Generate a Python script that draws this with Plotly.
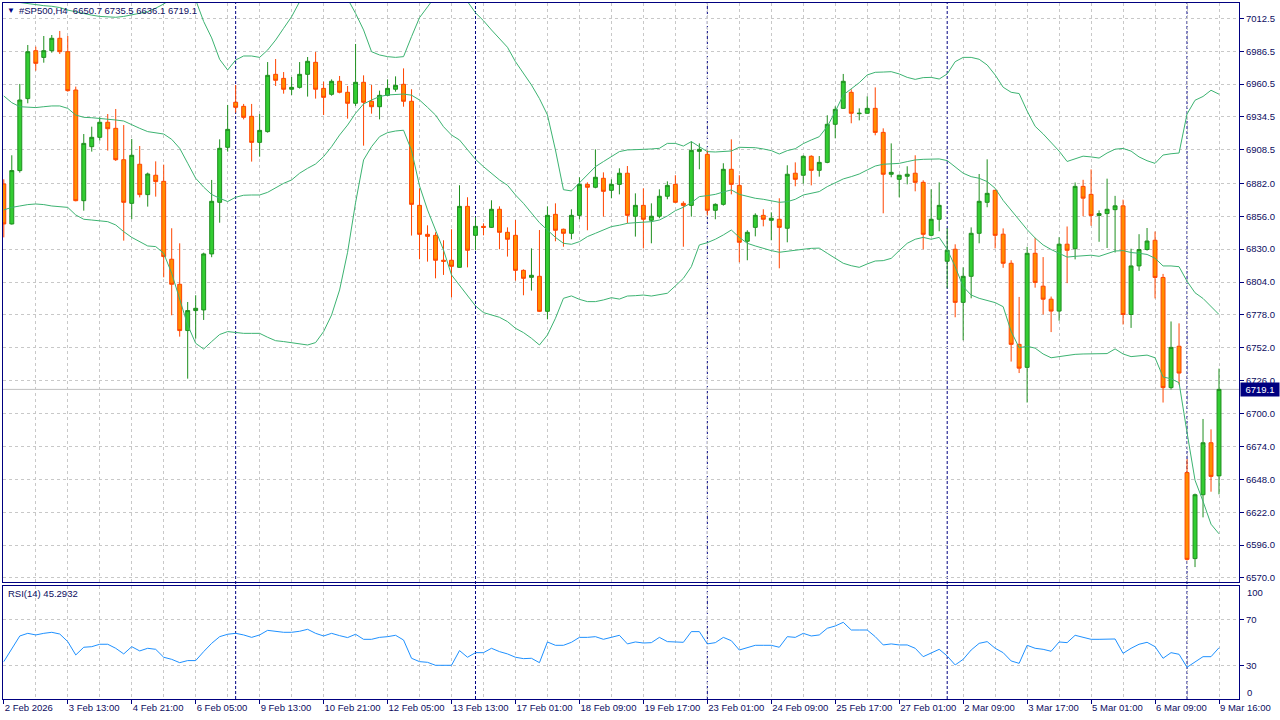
import plotly.graph_objects as go

symbol = "#SP500,H4"

open_ = [6881.5, 6849.9, 6892.1, 6949.0, 6986.9, 6981.6, 6986.9, 6996.7, 6986.1, 6955.8,
         6868.3, 6911.0, 6918.4, 6930.3, 6925.5, 6900.7, 6866.2, 6897.1, 6873.1, 6888.4,
         6883.6, 6822.0, 6802.2, 6765.6, 6781.4, 6781.9, 6826.2, 6867.0, 6910.5, 6946.1,
         6942.9, 6935.0, 6914.4, 6922.9, 6968.2, 6965.0, 6956.4, 6957.9, 6968.2, 6977.7,
         6957.1, 6952.4, 6962.7, 6954.0, 6945.3, 6961.9, 6946.9, 6942.6, 6951.6, 6956.4,
         6960.3, 6946.9, 6864.6, 6841.7, 6840.9, 6821.2, 6821.2, 6815.6, 6863.8, 6840.9,
         6848.0, 6847.2, 6861.5, 6843.3, 6840.9, 6813.2, 6807.7, 6808.5, 6780.8, 6857.5,
         6845.7, 6842.5, 6856.7, 6881.2, 6878.9, 6886.0, 6876.5, 6881.2, 6890.0, 6856.0,
         6864.6, 6852.8, 6856.0, 6871.8, 6881.2, 6866.2, 6864.6, 6907.3, 6904.9, 6860.7,
         6865.4, 6893.1, 6880.4, 6836.2, 6847.2, 6856.7, 6852.8, 6853.6, 6846.5, 6890.0,
         6888.4, 6903.4, 6892.3, 6898.6, 6928.7, 6941.3, 6954.0, 6937.1, 6937.4, 6941.3,
         6922.3, 6889.2, 6885.2, 6887.6, 6890.0, 6882.8, 6840.9, 6853.6, 6820.4, 6829.9,
         6787.9, 6808.5, 6842.5, 6867.0, 6876.5, 6841.8, 6818.8, 6754.7, 6736.5, 6826.7,
         6800.7, 6790.4, 6781.0, 6833.9, 6830.3, 6879.6, 6873.3, 6856.6, 6858.1, 6861.2,
         6864.2, 6778.3, 6816.7, 6829.7, 6837.0, 6807.6, 6720.5, 6753.2, 6653.3, 6585.3,
         6635.8, 6676.9, 6650.7]
high = [6885.2, 6904.2, 6960.6, 6991.4, 6990.1, 6998.5, 6999.3, 7002.5, 6998.5, 6958.5,
        6921.0, 6926.8, 6934.2, 6936.8, 6940.8, 6928.1, 6917.1, 6911.5, 6890.5, 6899.4,
        6896.8, 6846.5, 6834.6, 6788.2, 6793.5, 6827.2, 6884.7, 6916.8, 6944.0, 6959.8,
        6944.8, 6944.8, 6936.8, 6977.9, 6980.3, 6970.0, 6966.1, 6977.9, 6981.9, 6985.9,
        6962.4, 6964.2, 6966.9, 6959.0, 6992.2, 6967.4, 6959.8, 6955.3, 6964.2, 6966.6,
        6972.9, 6956.4, 6878.1, 6848.8, 6843.3, 6837.0, 6845.7, 6880.5, 6871.0, 6855.2,
        6850.4, 6868.6, 6863.8, 6847.2, 6853.0, 6814.0, 6830.6, 6845.1, 6863.8, 6866.2,
        6846.2, 6861.5, 6886.8, 6882.8, 6908.9, 6890.7, 6885.2, 6893.9, 6895.7, 6874.1,
        6878.1, 6866.2, 6877.3, 6883.6, 6888.4, 6867.8, 6915.2, 6913.6, 6908.1, 6866.2,
        6897.9, 6916.8, 6888.4, 6844.9, 6858.3, 6861.5, 6859.1, 6870.2, 6896.3, 6898.6,
        6904.2, 6904.2, 6903.6, 6935.8, 6942.9, 6968.5, 6956.4, 6941.3, 6950.8, 6957.9,
        6925.5, 6913.6, 6888.9, 6895.5, 6904.2, 6884.4, 6877.3, 6882.8, 6846.5, 6833.8,
        6815.6, 6847.2, 6889.4, 6901.0, 6876.8, 6846.4, 6821.2, 6792.2, 6831.8, 6838.8,
        6823.7, 6792.5, 6839.4, 6847.9, 6882.7, 6884.8, 6893.0, 6860.6, 6885.7, 6872.1,
        6869.1, 6830.3, 6841.8, 6846.7, 6843.9, 6810.4, 6772.8, 6771.3, 6663.9, 6636.7,
        6695.7, 6687.5, 6735.5]
low = [6839.3, 6849.4, 6890.5, 6945.3, 6971.1, 6977.4, 6985.3, 6984.3, 6954.5, 6867.8,
       6860.4, 6907.1, 6915.8, 6907.9, 6899.7, 6836.7, 6853.8, 6870.9, 6863.6, 6871.5,
       6807.7, 6777.7, 6760.8, 6727.6, 6759.2, 6774.0, 6823.6, 6850.9, 6907.1, 6937.9,
       6932.6, 6899.2, 6903.1, 6922.1, 6959.0, 6952.9, 6951.9, 6956.9, 6950.6, 6949.0,
       6936.0, 6951.3, 6953.2, 6933.2, 6943.2, 6911.8, 6937.1, 6932.6, 6950.8, 6954.5,
       6942.6, 6840.7, 6822.0, 6820.1, 6806.9, 6809.6, 6791.9, 6815.4, 6815.6, 6829.1,
       6840.9, 6846.7, 6829.9, 6824.1, 6805.1, 6793.5, 6797.2, 6780.3, 6774.5, 6836.2,
       6831.9, 6837.8, 6853.6, 6844.9, 6878.1, 6855.7, 6870.2, 6873.3, 6850.4, 6839.9,
       6830.6, 6834.6, 6854.4, 6869.4, 6866.7, 6831.9, 6855.7, 6893.1, 6856.7, 6853.6,
       6864.4, 6873.3, 6819.6, 6821.2, 6840.1, 6848.0, 6837.0, 6814.8, 6835.4, 6879.7,
       6881.8, 6880.4, 6887.3, 6897.9, 6917.6, 6941.1, 6929.5, 6931.8, 6937.1, 6920.0,
       6858.3, 6886.8, 6871.0, 6881.2, 6875.7, 6829.9, 6840.1, 6844.1, 6799.0, 6776.1,
       6757.9, 6791.1, 6834.6, 6863.1, 6830.6, 6815.2, 6741.1, 6732.0, 6708.7, 6799.5,
       6778.3, 6764.4, 6773.4, 6803.1, 6821.9, 6856.0, 6848.5, 6835.8, 6830.9, 6827.3,
       6770.4, 6767.7, 6812.8, 6828.8, 6791.0, 6708.7, 6719.0, 6722.9, 6583.8, 6578.6,
       6617.9, 6638.2, 6636.1]
close = [6849.9, 6892.1, 6947.9, 6986.1, 6976.9, 6986.9, 6996.7, 6986.1, 6955.3, 6868.3,
         6913.6, 6918.4, 6930.3, 6925.2, 6900.7, 6867.0, 6904.2, 6873.1, 6889.4, 6883.4,
         6824.1, 6802.2, 6765.6, 6781.4, 6783.2, 6826.2, 6867.8, 6909.7, 6924.7, 6942.1,
         6934.2, 6914.4, 6923.9, 6967.4, 6963.5, 6956.4, 6957.9, 6968.2, 6978.5, 6956.4,
         6950.0, 6962.7, 6954.0, 6945.3, 6961.9, 6946.1, 6942.6, 6951.6, 6957.1, 6959.5,
         6946.9, 6865.4, 6841.7, 6840.1, 6821.2, 6820.4, 6816.4, 6863.8, 6829.1, 6848.0,
         6847.2, 6861.5, 6843.3, 6837.8, 6813.2, 6806.9, 6809.3, 6780.8, 6856.7, 6844.9,
         6842.5, 6856.7, 6881.2, 6878.9, 6886.8, 6875.7, 6881.2, 6890.0, 6856.7, 6864.6,
         6853.6, 6856.0, 6871.8, 6880.4, 6867.0, 6864.6, 6908.1, 6908.9, 6860.7, 6865.4,
         6893.1, 6881.2, 6835.4, 6843.3, 6856.7, 6853.6, 6854.4, 6847.2, 6889.2, 6885.2,
         6903.4, 6892.3, 6898.6, 6928.7, 6940.5, 6962.7, 6937.4, 6937.4, 6941.3, 6922.3,
         6889.2, 6890.7, 6888.4, 6889.2, 6882.8, 6841.7, 6853.6, 6864.6, 6829.1, 6787.9,
         6808.5, 6842.5, 6867.8, 6874.1, 6840.9, 6818.8, 6754.7, 6735.9, 6826.7, 6803.7,
         6790.4, 6781.0, 6833.9, 6829.1, 6879.6, 6870.3, 6856.6, 6858.1, 6861.5, 6864.2,
         6778.3, 6816.7, 6829.7, 6836.4, 6807.6, 6720.5, 6752.3, 6732.0, 6584.7, 6635.8,
         6676.9, 6650.3, 6719.1]

bb_upper = [7029.0, 7026.5, 7025.0, 7024.0, 7023.0, 7022.5, 7022.0, 7021.0, 7019.0, 7017.5,
            7016.5, 7015.0, 7014.0, 7013.5, 7013.3, 7014.0, 7015.1, 7016.5, 7017.7, 7020.5,
            7023.8, 7028.0, 7032.0, 7031.0, 7027.0, 7010.0, 6997.0, 6980.0, 6971.6, 6979.5,
            6982.7, 6982.7, 6981.6, 6987.4, 6995.3, 7004.6, 7013.8, 7025.6, 7035.0, 7042.0,
            7045.0, 7042.0, 7036.0, 7028.0, 7016.4, 7003.3, 6986.1, 6983.5, 6982.2, 6981.6,
            6982.2, 6998.0, 7013.0, 7021.5, 7030.0, 7036.0, 7036.0, 7030.0, 7025.7, 7016.9,
            7010.6, 7003.3, 6996.7, 6989.6, 6978.2, 6968.5, 6959.8, 6949.0, 6936.1, 6908.4,
            6877.0, 6876.0, 6882.6, 6888.6, 6895.2, 6899.2, 6903.1, 6907.1, 6908.4, 6908.9,
            6908.9, 6909.2, 6909.7, 6913.6, 6913.6, 6911.5, 6915.0, 6911.0, 6907.1, 6906.8,
            6907.1, 6907.6, 6910.5, 6910.5, 6910.2, 6909.2, 6907.9, 6905.2, 6907.9, 6909.4,
            6913.4, 6916.3, 6918.9, 6926.9, 6938.7, 6951.9, 6957.1, 6961.6, 6967.7, 6969.8,
            6970.0, 6970.3, 6968.5, 6965.8, 6964.2, 6965.6, 6965.8, 6964.5, 6968.5, 6978.2,
            6981.6, 6981.6, 6980.1, 6975.6, 6967.7, 6958.0, 6954.0, 6953.0, 6939.2, 6927.1,
            6921.1, 6914.1, 6907.5, 6899.3, 6901.4, 6903.5, 6902.9, 6902.0, 6906.0, 6909.0,
            6909.6, 6907.5, 6902.9, 6899.9, 6897.8, 6904.4, 6905.4, 6906.0, 6936.8, 6947.7,
            6950.7, 6955.6, 6952.5]
bb_middle = [6951.1, 6945.8, 6942.6, 6942.1, 6941.9, 6942.6, 6943.2, 6943.2, 6941.3, 6936.0,
             6934.2, 6933.9, 6933.4, 6932.6, 6932.1, 6931.3, 6928.2, 6925.5, 6922.9, 6922.1,
             6921.0, 6916.8, 6909.7, 6897.9, 6886.0, 6879.0, 6873.2, 6870.2, 6867.6, 6871.0,
             6872.6, 6872.8, 6872.8, 6874.9, 6878.6, 6882.0, 6884.7, 6890.0, 6893.9, 6897.3,
             6903.1, 6911.0, 6920.2, 6928.1, 6937.4, 6944.8, 6947.9, 6950.6, 6951.9, 6952.4,
             6952.6, 6951.7, 6947.9, 6942.1, 6936.0, 6926.8, 6920.2, 6916.3, 6908.4, 6901.0,
             6895.2, 6890.0, 6884.7, 6880.5, 6872.8, 6866.2, 6858.3, 6850.9, 6845.1, 6839.3,
             6834.6, 6833.8, 6835.9, 6839.9, 6842.5, 6845.1, 6847.8, 6848.9, 6850.4, 6850.9,
             6851.5, 6851.7, 6853.0, 6856.2, 6860.4, 6863.1, 6866.7, 6871.5, 6872.3, 6873.3,
             6875.2, 6876.8, 6873.3, 6871.5, 6870.2, 6869.4, 6868.3, 6867.0, 6867.5, 6869.4,
             6872.8, 6874.1, 6875.5, 6879.4, 6882.6, 6885.5, 6887.3, 6889.4, 6892.6, 6895.7,
             6897.1, 6897.3, 6897.8, 6899.2, 6900.5, 6901.0, 6901.3, 6901.3, 6900.0, 6895.2,
             6890.0, 6887.3, 6886.0, 6883.4, 6878.1, 6868.5, 6860.8, 6852.3, 6845.4, 6838.8,
             6833.3, 6829.7, 6826.7, 6823.7, 6824.3, 6824.9, 6825.2, 6824.3, 6826.4, 6828.5,
             6828.8, 6827.3, 6826.7, 6825.8, 6822.8, 6816.7, 6816.7, 6816.1, 6804.6, 6795.5,
             6791.0, 6784.9, 6778.3]
bb_lower = [6861.0, 6863.0, 6864.1, 6865.2, 6865.7, 6865.2, 6864.1, 6863.6, 6863.0, 6857.0,
            6853.6, 6853.0, 6852.5, 6851.7, 6849.1, 6843.8, 6839.3, 6835.9, 6832.5, 6832.0,
            6826.7, 6810.9, 6789.8, 6770.0, 6755.5, 6751.0, 6756.9, 6762.5, 6764.8, 6764.0,
            6763.4, 6763.4, 6763.4, 6760.3, 6757.6, 6756.9, 6756.1, 6755.5, 6754.2, 6756.1,
            6764.8, 6777.9, 6797.7, 6827.5, 6866.7, 6900.5, 6911.0, 6918.9, 6922.1, 6923.4,
            6924.0, 6908.0, 6880.0, 6861.0, 6845.1, 6829.3, 6809.6, 6801.7, 6793.7, 6785.1,
            6779.8, 6777.9, 6776.1, 6772.7, 6767.4, 6764.0, 6759.5, 6754.2, 6762.1, 6775.3,
            6791.1, 6793.0, 6790.3, 6788.5, 6788.5, 6789.8, 6791.6, 6790.5, 6792.9, 6793.2,
            6793.7, 6792.9, 6794.0, 6795.1, 6800.9, 6806.9, 6816.1, 6833.3, 6835.1, 6837.8,
            6841.2, 6845.1, 6839.3, 6834.6, 6832.5, 6830.6, 6828.8, 6827.5, 6828.5, 6829.3,
            6829.9, 6830.6, 6830.8, 6826.7, 6822.7, 6818.8, 6816.9, 6815.6, 6818.3, 6820.6,
            6820.9, 6822.7, 6828.8, 6834.6, 6837.8, 6839.3, 6837.8, 6839.3, 6829.9, 6816.1,
            6800.3, 6793.7, 6791.1, 6789.3, 6787.7, 6784.5, 6765.0, 6752.0, 6753.2, 6751.7,
            6747.1, 6744.1, 6745.0, 6746.2, 6746.8, 6747.1, 6747.1, 6747.1, 6747.4, 6751.1,
            6747.1, 6745.0, 6745.6, 6746.2, 6744.1, 6728.9, 6727.5, 6724.4, 6685.1, 6647.3,
            6630.6, 6612.5, 6604.9]

rsi = [33.2, 44.8, 55.5, 57.8, 56.4, 57.8, 58.7, 57.2, 50.6, 39.0,
       45.7, 46.2, 48.3, 48.3, 44.8, 39.9, 46.2, 42.5, 44.8, 43.9,
       37.0, 35.2, 32.3, 34.1, 34.1, 41.9, 49.1, 54.9, 57.0, 57.8,
       56.4, 54.3, 56.4, 60.4, 59.3, 58.7, 58.7, 59.6, 61.3, 57.8,
       55.5, 57.8, 55.8, 54.1, 57.0, 52.6, 52.6, 54.3, 54.9, 56.1,
       52.0, 36.1, 33.2, 32.6, 30.0, 30.0, 30.0, 42.8, 37.0, 41.0,
       41.0, 44.8, 41.9, 39.9, 37.0, 35.8, 36.1, 32.3, 50.3, 47.4,
       47.4, 50.0, 54.3, 54.3, 54.9, 52.6, 54.3, 56.1, 48.6, 50.3,
       49.4, 49.7, 54.3, 50.6, 50.3, 50.0, 59.3, 59.3, 48.6, 49.7,
       54.3, 51.4, 43.3, 45.4, 47.4, 47.4, 47.4, 45.7, 54.9, 54.3,
       57.8, 55.5, 56.4, 62.2, 64.2, 67.4, 60.7, 60.7, 60.7, 54.9,
       47.7, 48.6, 47.7, 47.7, 44.8, 37.5, 40.4, 43.9, 38.1, 30.3,
       35.2, 43.3, 49.1, 50.6, 44.8, 41.0, 33.8, 31.7, 47.4, 44.8,
       43.9, 42.2, 50.3, 49.7, 56.1, 54.3, 52.6, 52.6, 52.6, 52.9,
       40.4, 44.8, 48.3, 50.0, 46.2, 36.1, 41.0, 39.6, 28.3, 33.2,
       37.5, 37.5, 45.2932]

x_labels = ["2 Feb 2026", "3 Feb 13:00", "4 Feb 21:00", "6 Feb 05:00", "9 Feb 13:00",
            "10 Feb 21:00", "12 Feb 05:00", "13 Feb 13:00", "17 Feb 01:00", "18 Feb 09:00",
            "19 Feb 17:00", "23 Feb 01:00", "24 Feb 09:00", "25 Feb 17:00", "27 Feb 01:00",
            "2 Mar 09:00", "3 Mar 17:00", "5 Mar 01:00", "6 Mar 09:00", "9 Mar 16:00"]
price_ticks = [7012.5, 6986.5, 6960.5, 6934.5, 6908.5, 6882.0, 6856.0, 6830.0, 6804.0,
               6778.0, 6752.0, 6726.0, 6700.0, 6674.0, 6648.0, 6622.0, 6596.0, 6570.0]
rsi_levels = [30, 70]
rsi_bounds = [0, 100]
week_start_bars = [29, 59, 88, 118, 148]

# ---------------- layout geometry ----------------
W, H = 1280, 720
ML, MR, MT, MB = 3, 41, 3, 21
PW, PH = W - ML - MR, H - MT - MB
PRICE_BOTTOM_PX, RSI_TOP_PX = 582, 585.5

def pyf(py):
    return (H - MB - py) / PH

def pxf(px):
    return (px - ML) / PW

NAVY = "#000080"
TXT = "#0c0c60"
GRID = "#c8c8c8"
FONT = "Liberation Sans"
FS = 9.5

n = len(close)
idx = list(range(n))
x_range = [-0.1, 154.5]

fig = go.Figure()
fig.add_trace(go.Candlestick(
    x=idx, open=open_, high=high, low=low, close=close, xaxis="x", yaxis="y",
    increasing=dict(line=dict(color="#1f8f1f", width=1), fillcolor="#32cd32"),
    decreasing=dict(line=dict(color="#ff4500", width=1), fillcolor="#ff8c00"),
    whiskerwidth=0, showlegend=False, hoverinfo="skip"))
for band in (bb_upper, bb_middle, bb_lower):
    fig.add_trace(go.Scatter(x=idx, y=band, mode="lines", xaxis="x", yaxis="y",
                             line=dict(color="#3cb371", width=1), showlegend=False,
                             hoverinfo="skip"))
fig.add_trace(go.Scatter(x=idx, y=rsi, mode="lines", xaxis="x2", yaxis="y2",
                         line=dict(color="#1e90ff", width=1), showlegend=False,
                         hoverinfo="skip"))

label_pos = list(range(0, n, 8))
grid_pos = list(range(0, n + 4, 4))

fig.update_layout(
    width=W, height=H, margin=dict(l=ML, r=MR, t=MT, b=MB, autoexpand=False),
    paper_bgcolor="white", plot_bgcolor="white", showlegend=False, hovermode=False,
    font=dict(family=FONT, size=FS, color=TXT),
    xaxis=dict(domain=[0, 1], anchor="y", range=x_range, rangeslider=dict(visible=False),
               tickmode="array", tickvals=grid_pos, showticklabels=False, ticks="",
               showgrid=True, gridcolor=GRID, griddash="3px,3px", gridwidth=1,
               showline=True, mirror=True, linecolor=NAVY, linewidth=1, zeroline=False,
               automargin=False),
    yaxis=dict(domain=[pyf(PRICE_BOTTOM_PX), 1], anchor="x", side="right",
               range=[6566.8, 7024.6], tickmode="array", tickvals=price_ticks,
               ticktext=[f"{v:.1f}" for v in price_ticks], ticks="outside", ticklen=4,
               tickcolor=NAVY, showgrid=True, gridcolor=GRID, griddash="3px,3px",
               showline=True, mirror=True, linecolor=NAVY, linewidth=1, zeroline=False,
               automargin=False, tickfont=dict(family=FONT, size=FS, color=TXT)),
    xaxis2=dict(domain=[0, 1], anchor="y2", range=x_range, matches="x",
                tickmode="array", tickvals=label_pos, ticktext=x_labels, tickangle=0,
                ticklabelposition="outside right", ticks="outside", ticklen=4,
                tickcolor=NAVY, showgrid=True, gridcolor=GRID, griddash="3px,3px",
                minor=dict(tickmode="array", tickvals=grid_pos, showgrid=True,
                           gridcolor=GRID, griddash="3px,3px", ticks=""),
                showline=True, mirror=True, linecolor=NAVY, linewidth=1, zeroline=False,
                automargin=False, tickfont=dict(family=FONT, size=FS, color=TXT)),
    yaxis2=dict(domain=[0, pyf(RSI_TOP_PX)], anchor="x2", side="right",
                range=[0.7, 99.4], tickmode="array", tickvals=rsi_levels,
                ticktext=[str(v) for v in rsi_levels], ticks="outside", ticklen=4,
                tickcolor=NAVY, showgrid=True, gridcolor=GRID, griddash="3px,3px",
                showline=True, mirror=True, linecolor=NAVY, linewidth=1, zeroline=False,
                automargin=False, tickfont=dict(family=FONT, size=FS, color=TXT)),
)

shapes = []
shapes.append(dict(type="line", xref="paper", x0=0, x1=1, yref="y",
                   y0=close[-1], y1=close[-1], line=dict(color="#c0c0c0", width=1),
                   layer="below"))
for b in week_start_bars:
    shapes.append(dict(type="line", xref="x", x0=b, x1=b, yref="paper", y0=0, y1=1,
                       line=dict(color=NAVY, width=1, dash="3px,2px"), layer="below"))
fig.update_layout(shapes=shapes)

sp = "\u00a0"
header = f"{symbol}{sp}{sp}{open_[-1]:.1f} {high[-1]:.1f} {low[-1]:.1f} {close[-1]:.1f}"
ann = [
    dict(text="\u25bc", xref="paper", yref="paper", x=pxf(5), y=pyf(10), xanchor="left",
         yanchor="middle", showarrow=False, font=dict(size=8, color=NAVY)),
    dict(text=header.replace(" ", sp), xref="paper", yref="paper", x=pxf(17), y=pyf(10),
         xanchor="left", yanchor="middle", showarrow=False,
         font=dict(family=FONT, size=FS, color=TXT)),
    dict(text=f"RSI(14){sp}{rsi[-1]:.4f}", xref="paper", yref="paper", x=pxf(6),
         y=pyf(593), xanchor="left", yanchor="middle", showarrow=False,
         font=dict(family=FONT, size=FS, color=TXT)),
    dict(text=f"{close[-1]:.1f}", xref="paper", yref="y", x=1, y=close[-1],
         xanchor="left", yanchor="middle", xshift=1, showarrow=False,
         bgcolor=NAVY, borderpad=1, width=36,
         font=dict(family=FONT, size=FS, color="white")),
    dict(text=str(rsi_bounds[1]), xref="paper", yref="paper", x=1, y=pyf(592),
         xanchor="left", yanchor="middle", xshift=6, showarrow=False,
         font=dict(family=FONT, size=FS, color=TXT)),
    dict(text=str(rsi_bounds[0]), xref="paper", yref="paper", x=1, y=pyf(692.5),
         xanchor="left", yanchor="middle", xshift=6, showarrow=False,
         font=dict(family=FONT, size=FS, color=TXT)),
]
fig.update_layout(annotations=ann)

fig.write_html("out.html", config={"displayModeBar": False},
               post_script="document.body.style.margin='0';document.body.style.overflow='hidden';")
